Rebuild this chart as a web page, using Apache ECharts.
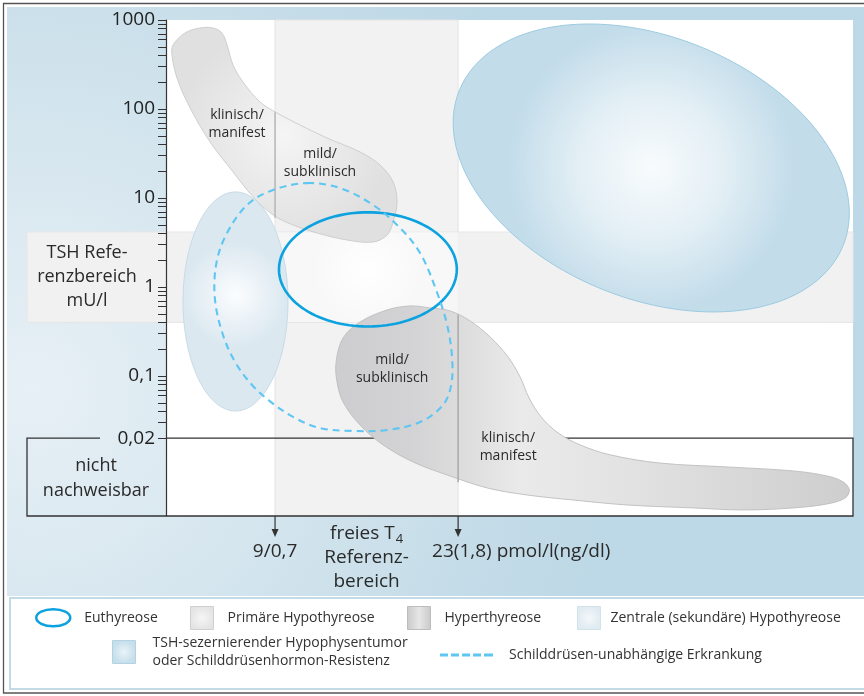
<!DOCTYPE html>
<html><head><meta charset="utf-8">
<script src="https://cdn.jsdelivr.net/npm/echarts@6/dist/echarts.min.js"></script>
<style>html,body{margin:0;padding:0;background:#fff}#c{width:864px;height:696px}</style>
</head><body><div id="c"></div>
<script>
// ---------- axes ----------
const ft4Extent = [0.66, 53.2];          // freies T4, pmol/l (schematic scale)
const tshExtent = [0.00267, 1000];       // TSH, mU/l (log)
const tshTickLabels = [1000, 100, 10, 1, 0.1, 0.02];
const tshMinorTicks = [900,800,700,600,500,400,300,200, 90,80,70,60,50,40,30,20,
  9,8,7,6,5,4,3,2, 0.9,0.8,0.7,0.6,0.5,0.4,0.3,0.2, 0.09,0.08,0.07,0.06,0.05,0.04,0.03];
const ft4Reference = [9, 23];
const ft4ReferenceLabels = ['9/0,7', '23(1,8) pmol/l(ng/dl)'];
const tshReference = [0.4, 4.15];
const detectionLimit = 0.02;

// ---------- regions: [fT4, TSH] outlines ----------
const primaryHypo = [[1.20,524],[2.11,714],[3.26,813],[4.26,813],[4.94,714],[5.33,524],[5.79,312],[6.55,201],
  [7.85,120],[9.15,90.2],[10.91,66.1],[12.98,47.2],[15.50,32.9],[17.03,23.5],[18.03,15.1],[18.33,9.02],
  [18.03,5.37],[17.57,3.84],[16.50,3.20],[14.51,3.37],[12.21,4.04],[10.38,4.97],[8.85,6.44],[7.32,10.3],
  [5.79,19.6],[4.03,42.6],[2.50,103],[1.50,223],[1.12,404]];
const primaryHypoDivider = [9, 92, 6.0];            // fT4, TSH from, TSH to
const hyper = [[20.86,0.581],[22.39,0.538],[23.92,0.415],[25.45,0.274],[26.83,0.163],[27.74,0.0975],
  [28.43,0.0566],[29.35,0.0346],[30.65,0.0229],[32.34,0.0168],[34.63,0.0130],[38.46,0.0105],[43.58,0.0095],
  [48.63,0.00857],[51.23,0.00752],[52.46,0.00644],[52.92,0.00524],[52.61,0.00426],[51.23,0.00365],
  [48.63,0.00329],[44.81,0.00312],[40.98,0.00329],[35.93,0.00355],[31.80,0.00404],[28.28,0.00460],
  [25.22,0.00552],[22.16,0.00772],[19.56,0.0108],[17.26,0.0168],[15.50,0.0281],[14.20,0.0510],
  [13.74,0.0857],[13.67,0.144],[14.20,0.267],[15.50,0.404],[17.57,0.552],[19.33,0.612]];
const hyperDivider = [23, 0.49, 0.0064];
const nonThyroidal = [[11.45,14.7],[13.97,12.9],[16.50,8.34],[18.56,4.60],[20.09,2.41],[21.32,0.925],
  [22.16,0.374],[22.54,0.159],[22.47,0.0792],[21.85,0.0472],[20.09,0.0304],[17.57,0.0247],[14.97,0.0241],
  [12.44,0.0260],[10.53,0.0337],[8.77,0.0498],[7.24,0.0792],[5.94,0.144],[5.02,0.289],[4.41,0.714],
  [4.49,1.77],[5.25,3.84],[6.86,8.34],[8.85,12.3]];
// ellipses: [fT4 min, fT4 max, TSH min, TSH max]
const euthyroid = [9.3, 22.9, 0.36, 6.9];
const centralHypo = [1.96, 9.99, 0.0404, 11.7];
const tshTumour = [22.62, 52.92, 0.524, 902];
const tshTumourTilt = 22;

// ---------- region labels ----------
const severityLabels = ['klinisch/\nmanifest', 'mild/\nsubklinisch'];
const primaryLabelAt = [[6.09, 67.8], [12.44, 24.7]];
const hyperLabelAt = [[26.83, 0.0159], [17.95, 0.12]];

const FONT = "'Open Sans','Noto Sans',sans-serif";
const chart = echarts.init(document.getElementById('c'));

function toPx(api, outline) { return outline.map(p => api.coord(p)); }
function ellipsePx(api, box, tiltDeg) {
  const p1 = api.coord([box[0], box[3]]), p2 = api.coord([box[1], box[2]]);
  const cx = (p1[0] + p2[0]) / 2, cy = (p1[1] + p2[1]) / 2;
  const W = Math.abs(p2[0] - p1[0]) / 2, H = Math.abs(p2[1] - p1[1]) / 2;
  const th = tiltDeg * Math.PI / 180, c = Math.cos(th) ** 2, s = Math.sin(th) ** 2;
  const a = Math.sqrt((W * W * c - H * H * s) / (c - s)), b = Math.sqrt((H * H * c - W * W * s) / (c - s));
  const out = [];
  for (let i = 0; i < 120; i++) {
    const t = i / 120 * 2 * Math.PI;
    out.push([cx + a * Math.cos(t) * Math.cos(th) - b * Math.sin(t) * Math.sin(th),
              cy + a * Math.cos(t) * Math.sin(th) + b * Math.sin(t) * Math.cos(th)]);
  }
  return out;
}
function radial(stops, x, y) {
  return {type: 'radial', x: x == null ? 0.5 : x, y: y == null ? 0.5 : y, r: 0.5,
    colorStops: stops.map((c, i) => ({offset: i / (stops.length - 1), color: c}))};
}
function txt(x, y, text, size, extra) {
  return Object.assign({type: 'text', x, y, style: Object.assign({text, fill: '#2a2a2a',
    fontFamily: FONT, fontSize: size, align: 'center', verticalAlign: 'middle', lineHeight: size + 5}, extra || {})});
}
function divider(api, d, color) {
  const a = api.coord([d[0], d[1]]), b = api.coord([d[0], d[2]]);
  return {type: 'line', shape: {x1: a[0], y1: a[1], x2: b[0], y2: b[1]}, style: {stroke: color, lineWidth: 1.6}};
}

const series = [
  { // reference bands, detection limit box, axis annotations
    type: 'custom', coordinateSystem: 'cartesian2d', z: 1, silent: true, clip: false,
    data: [[ft4Reference[0], tshReference[0]]],
    renderItem(params, api) {
      const g = params.coordSys, left = g.x, right = g.x + g.width, top = g.y, bottom = g.y + g.height;
      const fx0 = api.coord([ft4Reference[0], 1])[0], fx1 = api.coord([ft4Reference[1], 1])[0];
      const ty0 = api.coord([1, tshReference[1]])[1], ty1 = api.coord([1, tshReference[0]])[1];
      const yd = api.coord([1, detectionLimit])[1];
      const boxL = left - 139;
      const c = [];
      c.push({type: 'rect', shape: {x: fx0, y: top, width: fx1 - fx0, height: g.height},
        style: {fill: '#f2f2f2', stroke: '#e3e3e3', lineWidth: 1}});
      c.push({type: 'rect', shape: {x: boxL, y: ty0, width: right - boxL, height: ty1 - ty0},
        style: {fill: '#f1f1f1', stroke: '#e6e6e6', lineWidth: 1}});
      c.push({type: 'rect', shape: {x: fx0 + 0.5, y: ty0 + 0.5, width: fx1 - fx0 - 1, height: ty1 - ty0 - 1},
        style: {fill: '#f6f6f6'}});
      c.push({type: 'polyline', shape: {points: [[left - 66, yd], [boxL, yd], [boxL, bottom], [right, bottom], [right, yd], [left, yd]]},
        style: {stroke: '#333', lineWidth: 1.3, fill: null}});
      c.push(txt(left - 79, (ty0 + ty1) / 2, 'TSH Refe-\nrenzbereich\nmU/l', 18, {lineHeight: 24}));
      c.push(txt(left - 70, (yd + bottom) / 2 + 1, 'nicht\nnachweisbar', 18, {lineHeight: 25}));
      [fx0, fx1].forEach(x => {
        c.push({type: 'line', shape: {x1: x, y1: bottom, x2: x, y2: bottom + 16}, style: {stroke: '#333', lineWidth: 1.2}});
        c.push({type: 'polygon', shape: {points: [[x - 3.5, bottom + 13], [x + 3.5, bottom + 13], [x, bottom + 21]]}, style: {fill: '#333'}});
      });
      c.push(txt(fx0, bottom + 36, ft4ReferenceLabels[0], 19));
      c.push(txt(fx1 - 26, bottom + 36, ft4ReferenceLabels[1], 19, {align: 'left'}));
      c.push({type: 'text', x: (fx0 + fx1) / 2, y: bottom + 42, style: {
        text: '{m|freies T}{s|4}\n{m|Referenz-}\n{m|bereich}', align: 'center', verticalAlign: 'middle',
        fill: '#2a2a2a', fontFamily: FONT, fontSize: 19,
        rich: {m: {fontFamily: FONT, fontSize: 19, lineHeight: 24, fill: '#2a2a2a'},
               s: {fontFamily: FONT, fontSize: 13, lineHeight: 24, verticalAlign: 'bottom', fill: '#2a2a2a', padding: [0, 0, 0, 1]}}}});
      return {type: 'group', children: c};
    }
  },
  { // inner glow of euthyroid region
    type: 'custom', coordinateSystem: 'cartesian2d', z: 1.5, silent: true,
    data: [[euthyroid[0], euthyroid[2]]],
    renderItem(params, api) {
      return {type: 'polygon', shape: {points: ellipsePx(api, euthyroid, 0)},
        style: {fill: radial(['rgba(255,255,255,0.95)', 'rgba(255,255,255,0.6)', 'rgba(255,255,255,0.2)'])}};
    }
  },
  {
    type: 'custom', name: 'Primäre Hypothyreose', coordinateSystem: 'cartesian2d', z: 2, silent: true,
    itemStyle: {color: '#e4e4e4'}, data: [primaryHypo[0]],
    renderItem(params, api) {
      const c = [{type: 'polygon', shape: {points: toPx(api, primaryHypo), smooth: 0.35},
        style: {fill: radial(['#f5f5f5', '#eaeaea', '#e0e0e0']), stroke: '#cbcbcb', lineWidth: 0.9}}];
      c.push(divider(api, primaryHypoDivider, '#b9b9b9'));
      primaryLabelAt.forEach((p, i) => { const q = api.coord(p); c.push(txt(q[0], q[1], severityLabels[i], 14, {lineHeight: 18})); });
      return {type: 'group', children: c};
    }
  },
  {
    type: 'custom', name: 'Hyperthyreose', coordinateSystem: 'cartesian2d', z: 2, silent: true,
    itemStyle: {color: '#d2d2d2'}, data: [hyper[0]],
    renderItem(params, api) {
      const c = [{type: 'polygon', shape: {points: toPx(api, hyper), smooth: 0.35},
        style: {fill: {type: 'linear', x: 0, y: 0, x2: 1, y2: 0, colorStops: [
          {offset: 0, color: '#cdcdcf'}, {offset: 0.15, color: '#d3d3d5'}, {offset: 0.27, color: '#dfdfdf'},
          {offset: 0.36, color: '#eaeaea'}, {offset: 0.55, color: '#e3e3e3'}, {offset: 0.85, color: '#d5d5d5'},
          {offset: 1, color: '#cecece'}]}, stroke: '#bdbdbd', lineWidth: 0.9}}];
      c.push(divider(api, hyperDivider, '#adadad'));
      hyperLabelAt.forEach((p, i) => { const q = api.coord(p); c.push(txt(q[0], q[1], severityLabels[i], 14, {lineHeight: 18})); });
      return {type: 'group', children: c};
    }
  },
  {
    type: 'custom', name: 'Zentrale (sekundäre) Hypothyreose', coordinateSystem: 'cartesian2d', z: 3, silent: true,
    itemStyle: {color: '#e3eef4'}, data: [[centralHypo[0], centralHypo[2]]],
    renderItem(params, api) {
      return {type: 'polygon', shape: {points: ellipsePx(api, centralHypo, 0)},
        style: {fill: radial(['#fbfdfe', '#ebf2f7', '#dbe8f0'], 0.5, 0.47), stroke: '#c3d8e5', lineWidth: 0.9}};
    }
  },
  {
    type: 'custom', name: 'TSH-sezernierender Hypophysentumor\noder Schilddrüsenhormon-Resistenz', coordinateSystem: 'cartesian2d',
    z: 3, silent: true, itemStyle: {color: '#cfe3ee'}, data: [[tshTumour[0], tshTumour[2]]],
    renderItem(params, api) {
      return {type: 'polygon', shape: {points: ellipsePx(api, tshTumour, tshTumourTilt)},
        style: {fill: radial(['#f8fbfd', '#e3eff5', '#c2dcea']), stroke: '#9ccbe1', lineWidth: 1}};
    }
  },
  {
    type: 'custom', name: 'Euthyreose', coordinateSystem: 'cartesian2d', z: 4, silent: true,
    itemStyle: {color: '#0ca2df'}, data: [[euthyroid[0], euthyroid[2]]],
    renderItem(params, api) {
      return {type: 'polygon', shape: {points: ellipsePx(api, euthyroid, 0)},
        style: {fill: null, stroke: '#0ca2df', lineWidth: 2.6}};
    }
  },
  {
    type: 'custom', name: 'Schilddrüsen-unabhängige Erkrankung', coordinateSystem: 'cartesian2d', z: 5, silent: true,
    itemStyle: {color: '#5ec6f2'}, data: [nonThyroidal[0]],
    renderItem(params, api) {
      return {type: 'polygon', shape: {points: toPx(api, nonThyroidal), smooth: 0.35},
        style: {fill: null, stroke: '#5ec6f2', lineWidth: 2.1, lineDash: [7, 5]}};
    }
  }
];

const lt = (pad) => ({fontFamily: FONT, fontSize: 14, color: '#333', lineHeight: 18, padding: pad});
const legendBase = {padding: 0, selectedMode: false, orient: 'horizontal'};
const option = {
  animation: false,
  grid: {left: 166, right: 11, top: 20, bottom: 180, show: true, backgroundColor: '#ffffff', borderWidth: 0,
    containLabel: false, outerBoundsMode: 'none'},
  xAxis: {type: 'value', min: ft4Extent[0], max: ft4Extent[1],
    axisLine: {show: false}, axisTick: {show: false}, axisLabel: {show: false}, splitLine: {show: false}},
  yAxis: {type: 'log', logBase: 10, min: tshExtent[0], max: tshExtent[1], z: 10,
    axisLine: {show: true, onZero: false, lineStyle: {color: '#333', width: 1.2}},
    axisTick: {show: true, length: 8, customValues: tshTickLabels.concat(tshMinorTicks), lineStyle: {color: '#333', width: 1}},
    axisLabel: {show: true, customValues: tshTickLabels, margin: 11, fontFamily: FONT, fontSize: 19, color: '#222',
      formatter: v => String(+(+v).toPrecision(6)).replace('.', ',')},
    minorTick: {show: false}, splitLine: {show: false}},
  graphic: {elements: [
    {type: 'rect', z: -20, shape: {x: 3.5, y: 3.5, width: 870, height: 689.5}, style: {fill: '#fff', stroke: '#555', lineWidth: 1.3}},
    {type: 'rect', z: -15, shape: {x: 7, y: 7, width: 860, height: 589},
      style: {fill: {type: 'radial', x: 0.03, y: 0.65, r: 1, colorStops: [{offset: 0, color: '#e7f0f5'},
        {offset: 0.35, color: '#d9e8f0'}, {offset: 0.8, color: '#c4dce8'}, {offset: 1, color: '#bdd8e6'}]}}},
    {type: 'rect', z: -15, shape: {x: 10, y: 598, width: 860, height: 91}, style: {fill: '#fff', stroke: '#c3dbe7', lineWidth: 2}}
  ]},
  legend: [
    Object.assign({}, legendBase, {left: 35, top: 608, itemWidth: 40, itemHeight: 17, textStyle: lt([0, 0, 0, 6]),
      data: [{name: 'Euthyreose', icon: 'path://M0,10A20,10 0 1,1 40,10A20,10 0 1,1 0,10Z',
        itemStyle: {color: '#ffffff', borderColor: '#0ca2df', borderWidth: 2.5}}]}),
    Object.assign({}, legendBase, {left: 190, top: 606, itemWidth: 23, itemHeight: 23, textStyle: lt([0, 0, 0, 9]),
      data: [{name: 'Primäre Hypothyreose', icon: 'rect', itemStyle: {color: radial(['#f6f6f6', '#e4e4e4']), borderColor: '#d0d0d0', borderWidth: 1}}]}),
    Object.assign({}, legendBase, {left: 407, top: 606, itemWidth: 23, itemHeight: 23, textStyle: lt([0, 0, 0, 9]),
      data: [{name: 'Hyperthyreose', icon: 'rect', itemStyle: {color: {type: 'linear', x: 0, y: 0, x2: 1, y2: 0, colorStops: [
        {offset: 0, color: '#c9c9c9'}, {offset: 0.5, color: '#e6e6e6'}, {offset: 1, color: '#c9c9c9'}]}, borderColor: '#bdbdbd', borderWidth: 1}}]}),
    Object.assign({}, legendBase, {left: 577, top: 606, itemWidth: 23, itemHeight: 23, textStyle: lt([0, 0, 0, 5]),
      data: [{name: 'Zentrale (sekundäre) Hypothyreose', icon: 'rect', itemStyle: {color: radial(['#f4f8fa', '#dfeaf1']), borderColor: '#d2e2eb', borderWidth: 1}}]}),
    Object.assign({}, legendBase, {left: 112, top: 625, itemWidth: 23, itemHeight: 23, textStyle: lt([18, 0, 0, 12]),
      data: [{name: 'TSH-sezernierender Hypophysentumor\noder Schilddrüsenhormon-Resistenz', icon: 'rect',
        itemStyle: {color: radial(['#eaf3f8', '#c4deeb']), borderColor: '#b3d2e2', borderWidth: 1}}]}),
    Object.assign({}, legendBase, {left: 440, top: 646, itemWidth: 53, itemHeight: 3, textStyle: lt([0, 0, 0, 11]),
      data: [{name: 'Schilddrüsen-unabhängige Erkrankung',
        icon: 'path://M0,0h8v3h-8z M11,0h8v3h-8z M22,0h8v3h-8z M33,0h8v3h-8z M44,0h9v3h-9z',
        itemStyle: {color: '#5ec6f2', borderWidth: 0}}]})
  ],
  series
};
chart.setOption(option);
</script></body></html>
